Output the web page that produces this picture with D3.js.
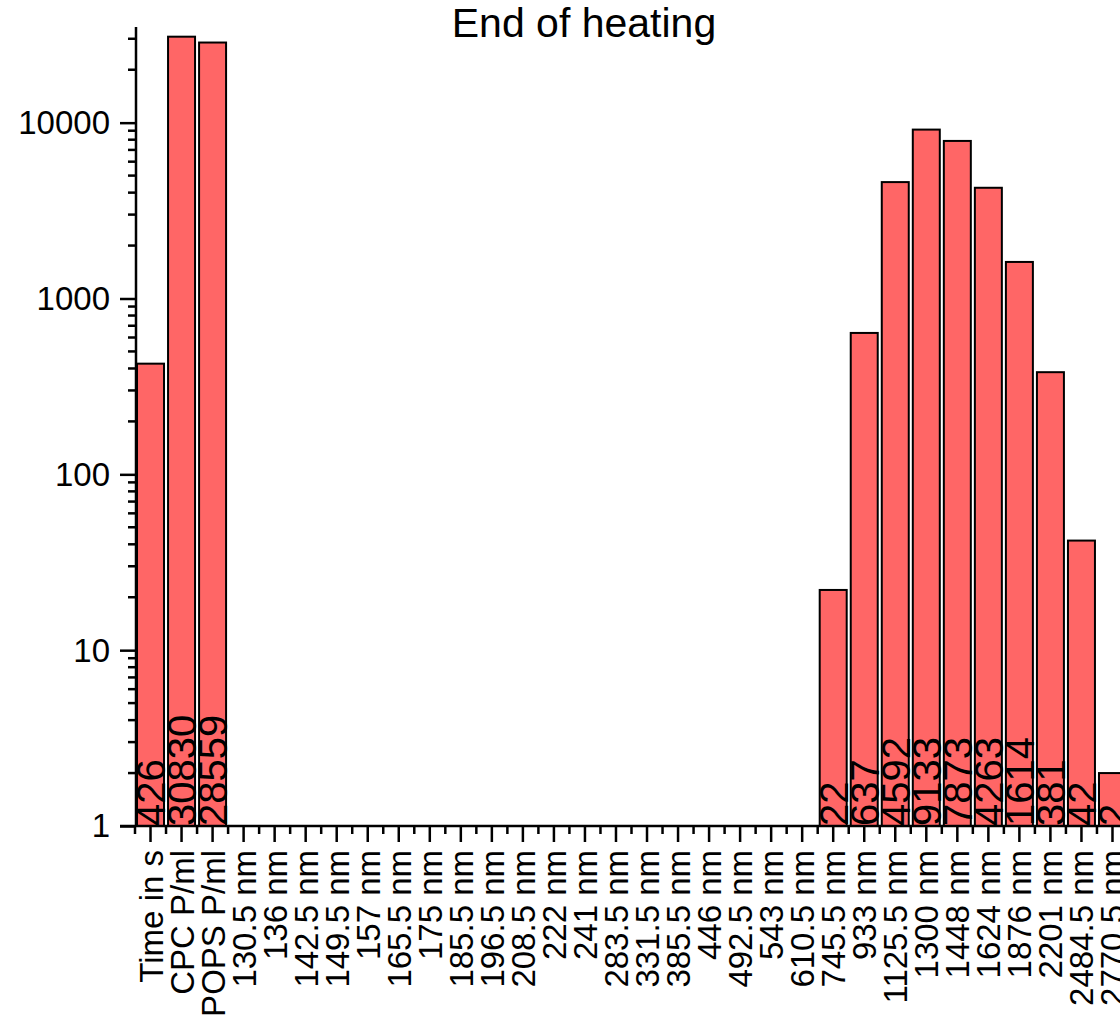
<!DOCTYPE html>
<html>
<head>
<meta charset="utf-8">
<script src="https://cdn.jsdelivr.net/npm/d3@7"></script>
<style>
  body { margin: 0; background: #fff; }
  text { font-family: "Liberation Sans", Arial, sans-serif; fill: #000; }
</style>
</head>
<body>
<svg id="chart" width="1120" height="1020"></svg>
<script>
const title = "End of heating";

const categories = ["Time in s", "CPC P/ml", "POPS P/ml",
    "130.5 nm", "136 nm", "142.5 nm", "149.5 nm", "157 nm", "165.5 nm", "175 nm",
    "185.5 nm", "196.5 nm", "208.5 nm", "222 nm", "241 nm", "283.5 nm", "331.5 nm",
    "385.5 nm", "446 nm", "492.5 nm", "543 nm", "610.5 nm", "745.5 nm", "933 nm",
    "1125.5 nm", "1300 nm", "1448 nm", "1624 nm", "1876 nm", "2201 nm", "2484.5 nm",
    "2770.5 nm"];

const values = [426, 30830, 28559,
    0, 0, 0, 0, 0, 0, 0,
    0, 0, 0, 0, 0, 0, 0,
    0, 0, 0, 0, 0, 22, 637,
    4592, 9133, 7873, 4263, 1614, 381, 42,
    2];

const yTicks = [1, 10, 100, 1000, 10000];

const data = categories.map((c, i) => ({name: c, value: values[i]}));

const svg = d3.select("#chart");

const x = d3.scaleBand()
    .domain(categories)
    .range([135, 1128])
    .paddingInner(0.13)
    .paddingOuter(0.065);

const y = d3.scaleLog()
    .domain([1, 35000])
    .range([826, 27]);

// title
svg.append("text")
    .attr("x", 584)
    .attr("y", 37)
    .attr("text-anchor", "middle")
    .style("font-size", "41px")
    .text(title);

// bars
svg.append("g").selectAll("rect")
    .data(data.filter(d => d.value > 0))
    .enter().append("rect")
    .attr("x", d => x(d.name))
    .attr("y", d => y(d.value))
    .attr("width", x.bandwidth())
    .attr("height", d => y(1) - y(d.value))
    .attr("fill", "#ff6666")
    .attr("stroke", "#000")
    .attr("stroke-width", 2);

// value labels inside the bars
svg.append("g").selectAll("text")
    .data(data.filter(d => d.value > 0))
    .enter().append("text")
    .attr("transform", d => "translate(" + (x(d.name) + x.bandwidth() / 2 + 14.5) + ",826) rotate(-90)")
    .style("font-size", "40px")
    .text(d => d.value);

// y axis
const minor = [];
for (let dec = 1; dec <= 10000; dec *= 10) {
    for (let k = 2; k <= 9; k++) {
        if (dec * k <= 35000) minor.push(dec * k);
    }
}

const yAxis = svg.append("g").attr("transform", "translate(136,0)");
yAxis.call(d3.axisLeft(y).tickValues(yTicks).tickSize(16).tickFormat(d3.format("d")).tickPadding(10));
yAxis.select(".domain").remove();
yAxis.selectAll(".tick line").attr("stroke", "#000").attr("stroke-width", 2.5);
yAxis.selectAll(".tick text").style("font-size", "33px").attr("font-family", null).attr("dy", "0.33em");
yAxis.selectAll(".minor")
    .data(minor)
    .enter().append("line")
    .attr("class", "minor")
    .attr("x1", -8).attr("x2", 0)
    .attr("y1", d => y(d)).attr("y2", d => y(d))
    .attr("stroke", "#000")
    .attr("stroke-width", 2.5);
yAxis.append("line")
    .attr("x1", 0).attr("x2", 0)
    .attr("y1", 27).attr("y2", 827)
    .attr("stroke", "#000")
    .attr("stroke-width", 2.5);

// x axis
const step = x.step();
const xAxis = svg.append("g").attr("transform", "translate(0,826)");
xAxis.append("line")
    .attr("x1", 120).attr("x2", 1130)
    .attr("stroke", "#000")
    .attr("stroke-width", 2.5);

const bounds = categories.map(c => x(c) - step * x.paddingInner() / 2);
bounds.push(bounds[bounds.length - 1] + step);

xAxis.selectAll(".minor")
    .data(bounds)
    .enter().append("line")
    .attr("class", "minor")
    .attr("x1", d => d).attr("x2", d => d)
    .attr("y1", 0).attr("y2", 8)
    .attr("stroke", "#000")
    .attr("stroke-width", 2.5);

xAxis.selectAll(".major")
    .data(categories)
    .enter().append("line")
    .attr("class", "major")
    .attr("x1", d => x(d) + x.bandwidth() / 2).attr("x2", d => x(d) + x.bandwidth() / 2)
    .attr("y1", 0).attr("y2", 16)
    .attr("stroke", "#000")
    .attr("stroke-width", 2.5);

xAxis.selectAll(".lbl")
    .data(categories)
    .enter().append("text")
    .attr("class", "lbl")
    .attr("text-anchor", "end")
    .attr("transform", d => "translate(" + (x(d) + x.bandwidth() / 2 + 12) + ",24) rotate(-90)")
    .style("font-size", "33px")
    .text(d => d);
</script>
</body>
</html>
